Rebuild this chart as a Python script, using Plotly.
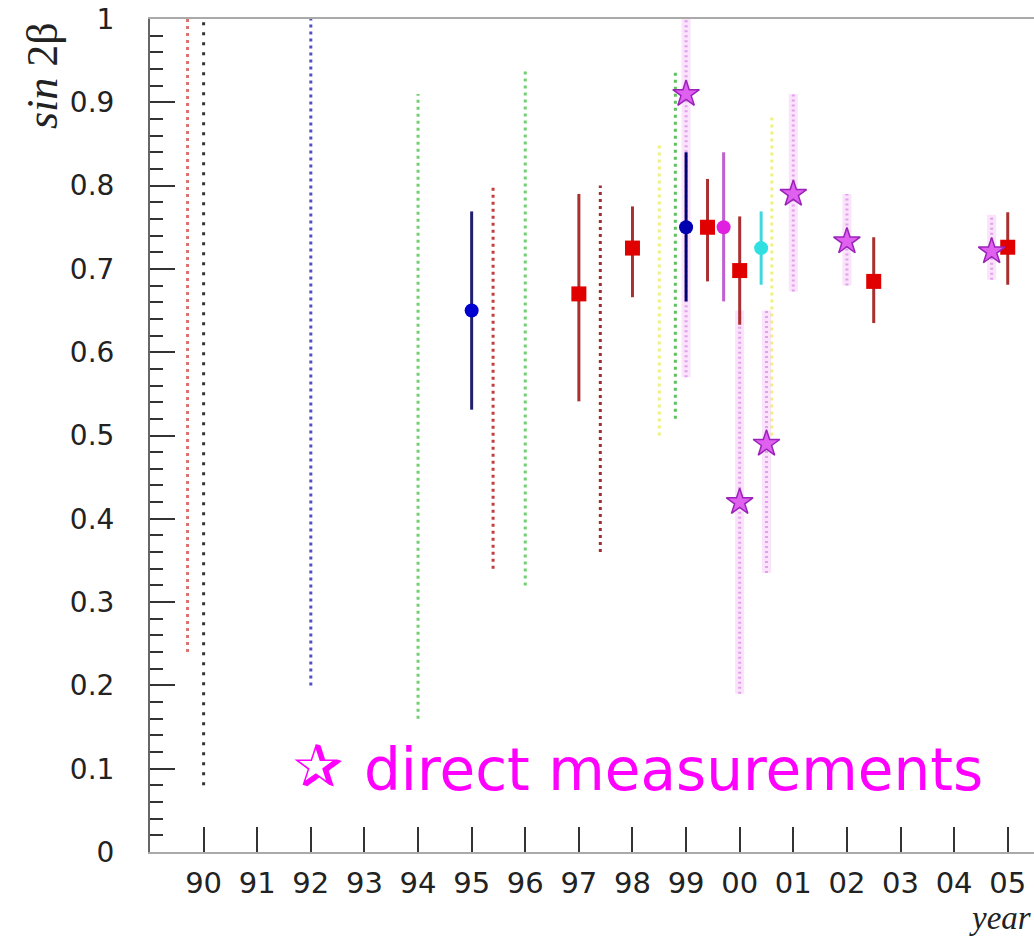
import plotly.graph_objects as go

# ---- data ----
# indirect constraint ranges (dotted vertical lines)
range_x = [89.7, 90.0, 92.0, 94.0, 95.4, 96.0, 97.4, 98.5, 98.8, 100.6]
range_lo = [0.24, 0.08, 0.20, 0.16, 0.34, 0.32, 0.36, 0.50, 0.52, 0.50]
range_hi = [1.00, 1.00, 1.00, 0.91, 0.80, 0.94, 0.80, 0.85, 0.94, 0.886]
range_colors = ["#e07070", "#333333", "#5050c8", "#70d070", "#c04040",
                "#70d070", "#a03030", "#f0f080", "#60c060", "#f0f080"]

# direct measurements (stars with wavy error bands)
star_x = [99.0, 100.0, 100.5, 101.0, 102.0, 104.7]
star_y = [0.91, 0.42, 0.49, 0.79, 0.733, 0.721]
star_lo = [0.57, 0.19, 0.335, 0.673, 0.68, 0.687]
star_hi = [1.00, 0.65, 0.65, 0.91, 0.79, 0.765]

# red squares
sq_x = [97.0, 98.0, 99.4, 100.0, 102.5, 105.0]
sq_y = [0.67, 0.725, 0.75, 0.698, 0.685, 0.726]
sq_lo = [0.541, 0.666, 0.685, 0.633, 0.635, 0.681]
sq_hi = [0.79, 0.775, 0.808, 0.763, 0.738, 0.768]

# circles
circ_x = [95.0, 99.0, 99.7, 100.4]
circ_y = [0.65, 0.75, 0.75, 0.725]
circ_lo = [0.531, 0.661, 0.661, 0.681]
circ_hi = [0.769, 0.84, 0.84, 0.769]
circ_colors = ["#0000d0", "#0000b0", "#e020e0", "#30e0e0"]
circ_bar_colors = ["#202070", "#000070", "#c060d0", "#40d8e0"]

year_vals = list(range(90, 106))
year_text = ["90", "91", "92", "93", "94", "95", "96", "97", "98", "99",
             "00", "01", "02", "03", "04", "05"]
y_vals = [0, 0.1, 0.2, 0.3, 0.4, 0.5, 0.6, 0.7, 0.8, 0.9, 1.0]
y_text = ["0", "0.1", "0.2", "0.3", "0.4", "0.5", "0.6", "0.7", "0.8", "0.9", "1"]

fig = go.Figure()

# dotted range lines
for xv, lo, hi, c in zip(range_x, range_lo, range_hi, range_colors):
    dash = "3px,7px" if c == "#333333" else "3px,4px"
    fig.add_trace(go.Scatter(x=[xv, xv], y=[lo, hi], mode="lines",
                             line=dict(color=c, width=3, dash=dash),
                             hoverinfo="skip", showlegend=False))

# wavy pink bands for direct measurements
for xv, lo, hi in zip(star_x, star_lo, star_hi):
    fig.add_trace(go.Scatter(x=[xv, xv], y=[lo, hi], mode="lines",
                             line=dict(color="rgba(245,200,248,0.5)", width=9),
                             hoverinfo="skip", showlegend=False))
    fig.add_trace(go.Scatter(x=[xv, xv], y=[lo, hi], mode="lines",
                             line=dict(color="rgba(215,140,230,0.75)", width=3, dash="2px,3px"),
                             hoverinfo="skip", showlegend=False))

# red squares with error bars
fig.add_trace(go.Scatter(
    x=sq_x, y=sq_y, mode="markers",
    marker=dict(symbol="square", size=15, color="#e00000",
                line=dict(color="#e00000", width=0)),
    error_y=dict(type="data", symmetric=False,
                 array=[h - v for h, v in zip(sq_hi, sq_y)],
                 arrayminus=[v - l for v, l in zip(sq_y, sq_lo)],
                 color="#a83030", thickness=3, width=0),
    showlegend=False))

# circles with error bars
for xv, yv, lo, hi, c, bc in zip(circ_x, circ_y, circ_lo, circ_hi, circ_colors, circ_bar_colors):
    fig.add_trace(go.Scatter(
        x=[xv], y=[yv], mode="markers",
        marker=dict(symbol="circle", size=14, color=c, line=dict(width=0)),
        error_y=dict(type="data", symmetric=False, array=[hi - yv], arrayminus=[yv - lo],
                     color=bc, thickness=3, width=0),
        showlegend=False))

# stars
fig.add_trace(go.Scatter(
    x=star_x, y=star_y, mode="markers",
    marker=dict(symbol="star", size=20, color="#e060f0",
                line=dict(color="#9a22b8", width=1.5)),
    showlegend=False))

L, T = 150, 19
W, H = 1034, 938
PW, PH = W - L, 852 - T


def px(xp):
    return (xp - L) / PW


def py(yp):
    return (852 - yp) / PH


fig.add_annotation(x=px(42), y=py(76), xref="paper", yref="paper",
                   text="<i>sin</i> 2β", textangle=-90, showarrow=False,
                   font=dict(family="Liberation Serif", size=44, color="#222"),
                   xanchor="center", yanchor="middle")
fig.add_annotation(x=px(1033), y=py(938), xref="paper", yref="paper",
                   text="<i>year</i>", showarrow=False,
                   font=dict(family="Liberation Serif", size=33, color="#222"),
                   xanchor="right", yanchor="bottom")
fig.add_annotation(x=px(291), y=py(766), xref="paper", yref="paper",
                   text="✰", showarrow=False,
                   font=dict(family="DejaVu Sans", size=60, color="#ff00ff"),
                   xanchor="left", yanchor="middle")
fig.add_annotation(x=px(362), y=py(770), xref="paper", yref="paper",
                   text="direct measurements", showarrow=False,
                   font=dict(family="DejaVu Sans", size=58, color="#ff00ff"),
                   xanchor="left", yanchor="middle")

fig.update_layout(
    width=W, height=H,
    margin=dict(l=L, r=0, t=T, b=H - 852),
    paper_bgcolor="white", plot_bgcolor="white",
    showlegend=False,
    xaxis=dict(range=[89, 105.49], tickvals=year_vals, ticktext=year_text,
               ticks="inside", ticklen=25, tickwidth=2, tickcolor="#333",
               showline=True, linecolor="#aaaaaa", linewidth=2, mirror=True,
               showgrid=False, zeroline=False, ticklabelstandoff=4,
               tickfont=dict(family="DejaVu Sans", size=29, color="#222")),
    yaxis=dict(range=[0, 1], tickvals=y_vals, ticktext=y_text,
               ticks="inside", ticklen=25, tickwidth=2, tickcolor="#333",
               minor=dict(dtick=0.02, ticks="inside", ticklen=13, tickwidth=2, tickcolor="#333"),
               showline=True, linecolor="#666666", linewidth=2,
               showgrid=False, zeroline=False, ticklabelstandoff=28,
               tickfont=dict(family="DejaVu Sans", size=28, color="#222")),
)

fig.write_html("out.html")
